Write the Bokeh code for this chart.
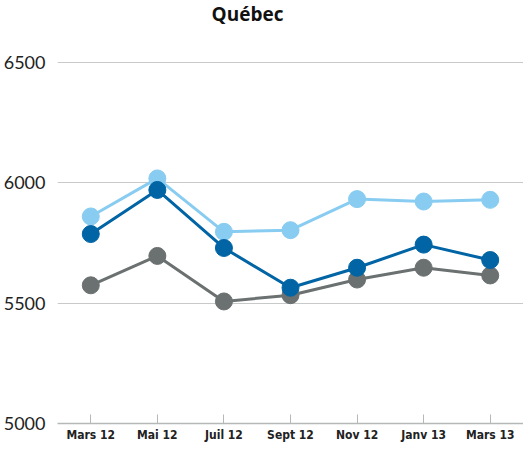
from bokeh.plotting import figure
from bokeh.models import FactorRange, Range1d, FixedTicker
from bokeh.core.properties import value
from bokeh.embed import file_html
from bokeh.resources import INLINE

months = ["Mars 12", "Mai 12", "Juil 12", "Sept 12", "Nov 12", "Janv 13", "Mars 13"]
light_blue = [5860, 6018, 5796, 5803, 5932, 5922, 5929]
dark_blue = [5787, 5970, 5729, 5564, 5647, 5743, 5679]
gray = [5574, 5696, 5507, 5533, 5598, 5647, 5615]
y_ticks = [5000, 5500, 6000, 6500]
title_text = "Québec"

y_top = 6757
p = figure(x_range=FactorRange(*months), y_range=Range1d(5000, y_top),
           width=523, height=444, output_backend="svg", toolbar_location=None,
           min_border_left=0, min_border_right=0, min_border_top=0, min_border_bottom=0)
p.outline_line_color = None
p.background_fill_color = "white"
p.border_fill_color = "white"

series = [(gray, "#6b7070"), (light_blue, "#88ccf1"), (dark_blue, "#0064a5")]
for vals, col in series:
    p.line(months, vals, line_color=col, line_width=3)
    p.scatter(months, vals, size=17, fill_color=col, line_color=col)

p.text(x=[months[3]], y=[y_top], text=[title_text], x_offset=-43, y_offset=0,
       text_font=value("Open Sans"), text_font_size="19px", text_font_style="bold",
       text_color="#111111", text_align="center", text_baseline="top")

p.yaxis.ticker = FixedTicker(ticks=y_ticks)
p.yaxis.axis_line_color = None
p.yaxis.major_tick_line_color = None
p.yaxis.minor_tick_line_color = None
p.yaxis.major_label_text_font = "Lato"
p.yaxis.major_label_text_font_size = "18px"
p.yaxis.major_label_text_color = "#222222"
p.yaxis.major_label_standoff = 6

p.xaxis.axis_line_color = "#b5b8b8"
p.xaxis.axis_line_width = 1.5
p.xaxis.major_tick_line_color = "#b5b8b8"
p.xaxis.major_tick_in = 9
p.xaxis.major_tick_out = 0
p.xaxis.major_label_text_font = "DejaVu Sans Condensed"
p.xaxis.major_label_text_font_style = "bold"
p.xaxis.major_label_text_font_size = "12px"
p.xaxis.major_label_text_color = "#222222"
p.xaxis.major_label_standoff = 4

p.xgrid.grid_line_color = None
p.ygrid.grid_line_color = "#c8caca"
p.ygrid.grid_line_width = 1

open("out.html", "w").write(file_html(p, INLINE))
